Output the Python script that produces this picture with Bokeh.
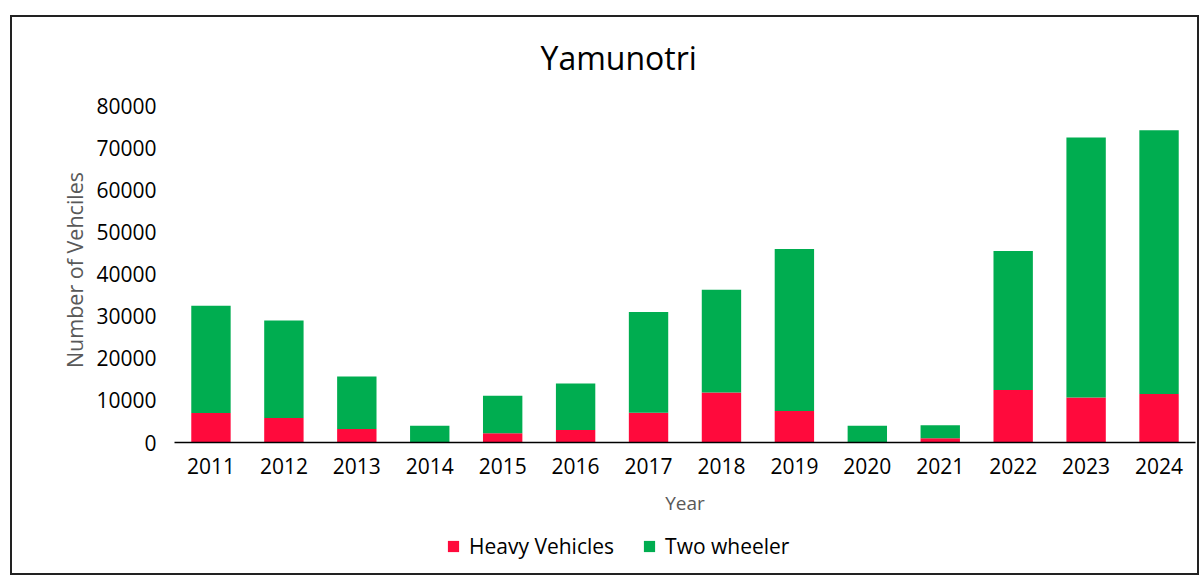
from bokeh.plotting import figure
from bokeh.models import Range1d, FactorRange, Legend, LegendItem, ColumnDataSource, SingleIntervalTicker, NumeralTickFormatter
from bokeh.layouts import column
from bokeh.embed import file_html
from bokeh.resources import INLINE

years = ["2011", "2012", "2013", "2014", "2015", "2016", "2017",
         "2018", "2019", "2020", "2021", "2022", "2023", "2024"]
heavy = [7000, 5800, 3200, 0, 2200, 3000, 7100, 11900, 7500, 0, 1000, 12500, 10700, 11500]
two_wheeler = [25500, 23200, 12500, 4000, 8900, 11000, 23900, 24400, 38500, 4000, 3100, 33000, 61800, 62700]
series = ["Heavy Vehicles", "Two wheeler"]
colors = ["#FF0A3C", "#00AD50"]

src = ColumnDataSource(data={"year": years, "Heavy Vehicles": heavy, "Two wheeler": two_wheeler})

FONT = "Open Sans"
W = 1185

p = figure(x_range=FactorRange(*years, range_padding=0), y_range=Range1d(0, 82000),
           width=W, height=502, output_backend="svg", toolbar_location=None,
           title="Yamunotri", min_border_left=162, min_border_right=2, min_border_top=80,
           min_border_bottom=77)

p.vbar_stack(series, x="year", width=0.54, source=src, color=colors, line_color=None)

p.title.text_font = FONT
p.title.text_font_size = "32px"
p.title.text_font_style = "normal"
p.title.text_color = "#000000"
p.title.align = "left"
p.title.offset = 366
p.title.standoff = 34
p.title.vertical_align = "top"

p.outline_line_color = None
p.xgrid.grid_line_color = None
p.ygrid.grid_line_color = None
p.background_fill_color = "white"
p.border_fill_color = "white"

p.yaxis.ticker = SingleIntervalTicker(interval=10000)
p.yaxis.formatter = NumeralTickFormatter(format="0")
p.yaxis.axis_line_color = None
p.yaxis.major_tick_line_color = None
p.yaxis.minor_tick_line_color = None
p.yaxis.major_label_standoff = 12
p.yaxis.major_label_text_font = FONT
p.yaxis.major_label_text_font_size = "21px"
p.yaxis.major_label_text_color = "#000000"
p.yaxis.axis_label = "Number of Vehciles"
p.yaxis.axis_label_text_font = FONT
p.yaxis.axis_label_text_font_size = "21.5px"
p.yaxis.axis_label_text_font_style = "normal"
p.yaxis.axis_label_text_color = "#595959"
p.yaxis.axis_label_standoff = 4

p.xaxis.axis_line_color = "#000000"
p.xaxis.axis_line_width = 1.5
p.xaxis.major_tick_line_color = None
p.xaxis.minor_tick_line_color = None
p.xaxis.major_label_standoff = 9
p.xaxis.major_label_text_font = FONT
p.xaxis.major_label_text_font_size = "21px"
p.xaxis.major_label_text_color = "#000000"
p.xaxis.axis_label = "Year"
p.xaxis.axis_label_text_font = FONT
p.xaxis.axis_label_text_font_size = "19px"
p.xaxis.axis_label_text_font_style = "normal"
p.xaxis.axis_label_text_color = "#595959"
p.xaxis.axis_label_standoff = 13

# legend strip below the chart (its frame is aligned with the chart's frame)
lg = figure(x_range=Range1d(0, 1), y_range=Range1d(0, 1), width=W, height=54,
            output_backend="svg", toolbar_location=None, x_axis_type=None, y_axis_type=None,
            min_border=0)
lg.outline_line_color = None
lg.background_fill_color = "white"
lg.border_fill_color = "white"
nan = float("nan")
items = []
for s, c in zip(series, colors):
    r = lg.quad(left=[nan], right=[nan], top=[nan], bottom=[nan], fill_color=c, line_color=None)
    items.append(LegendItem(label=s, renderers=[r]))

legend = Legend(items=items, orientation="horizontal", location=(272, 13), border_line_color=None,
                background_fill_alpha=0, label_text_font=FONT, label_text_font_size="21px",
                label_text_color="#000000", glyph_width=14, glyph_height=14,
                label_standoff=9, spacing=28, padding=0, margin=0)
lg.add_layout(legend, "center")

layout = column(p, lg, spacing=0, margin=(15, 0, 0, 10), styles={"border": "2px solid #222222"})

open("out.html", "w").write(file_html(layout, INLINE))
